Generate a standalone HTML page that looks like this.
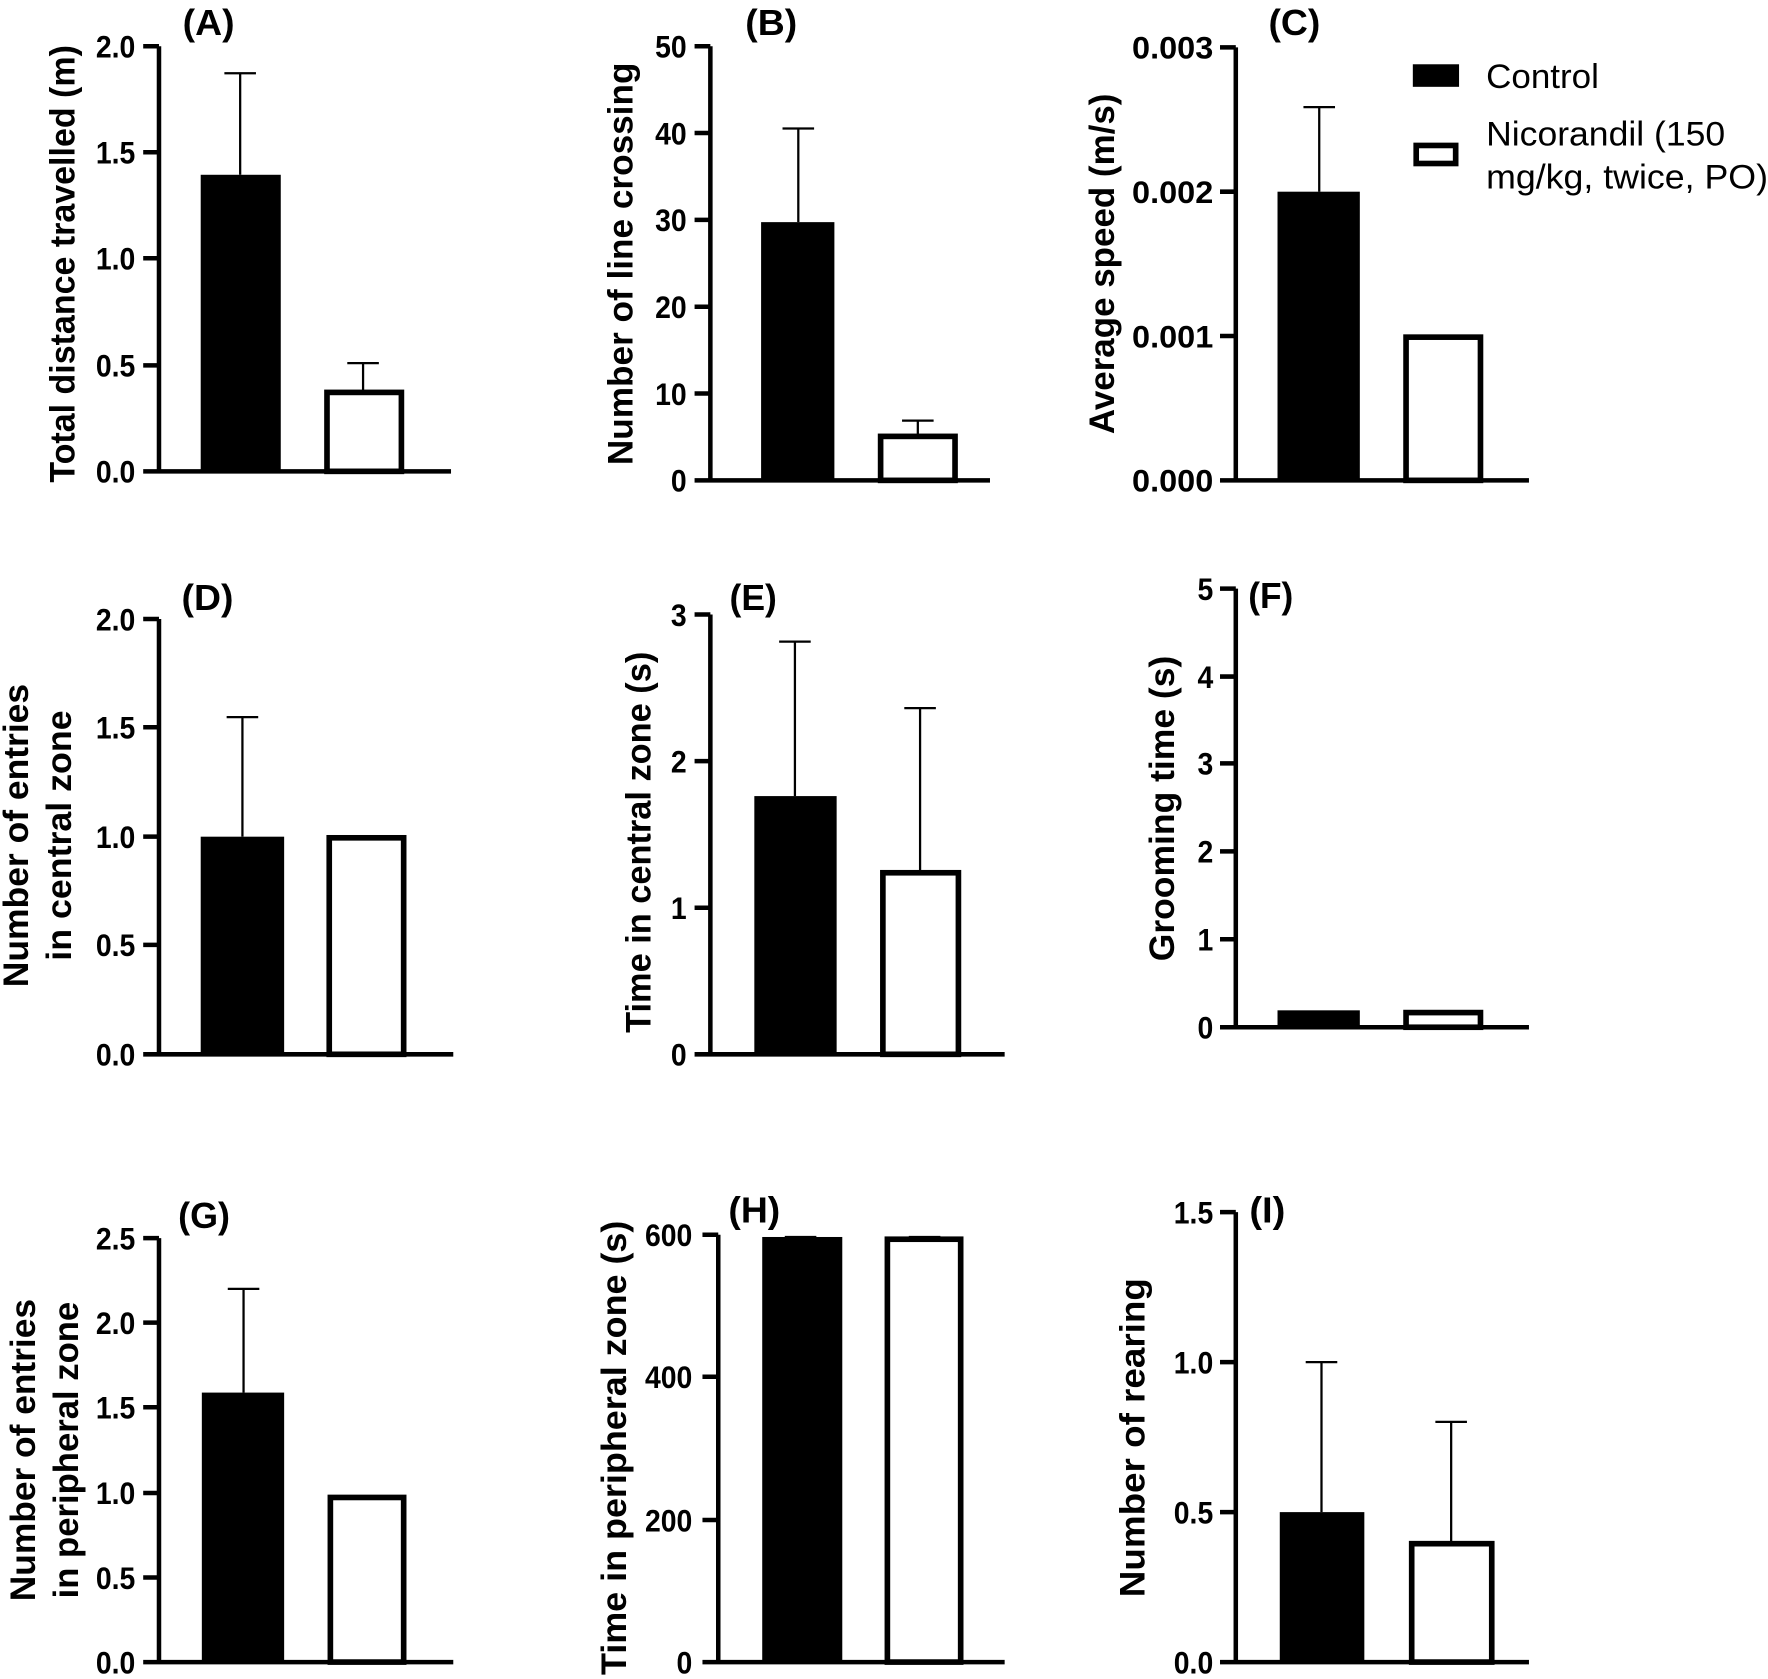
<!DOCTYPE html>
<html><head><meta charset="utf-8"><style>
html,body{margin:0;padding:0;background:#fff}
svg{display:block}
text{font-family:"Liberation Sans",Arial,sans-serif;font-weight:bold;fill:#000}
.t{font-size:28px;text-anchor:end}
.y{font-size:31px;text-anchor:middle}
.p{font-size:32px;text-anchor:middle}
.lg{font-size:30px;font-weight:normal}
.ax{stroke:#000;stroke-width:4;fill:none}
.e{stroke:#000;stroke-width:2;fill:none}
.w{fill:#fff;stroke:#000;stroke-width:5}
</style></head><body>
<svg width="1768" height="1679" viewBox="0 0 1568 1489" preserveAspectRatio="none" xmlns="http://www.w3.org/2000/svg">
<rect width="1568" height="1489" fill="#fff"/>

<!-- A -->
<text class="p" x="185" y="31" textLength="46" lengthAdjust="spacingAndGlyphs">(A)</text>
<path class="ax" d="M141 41V418H400M127 41H141M127 135H141M127 229H141M127 324H141M127 418H141"/>
<text class="t" x="120" y="51" textLength="35" lengthAdjust="spacingAndGlyphs">2.0</text><text class="t" x="120" y="145" textLength="35" lengthAdjust="spacingAndGlyphs">1.5</text><text class="t" x="120" y="239" textLength="35" lengthAdjust="spacingAndGlyphs">1.0</text><text class="t" x="120" y="334" textLength="35" lengthAdjust="spacingAndGlyphs">0.5</text><text class="t" x="120" y="428" textLength="35" lengthAdjust="spacingAndGlyphs">0.0</text>
<text class="y" transform="translate(66,234) rotate(-90)" textLength="388" lengthAdjust="spacingAndGlyphs">Total distance travelled (m)</text>
<path class="e" d="M213 155V65M199 65H227M322 347V322M308 322H336"/>
<rect x="178" y="155" width="71" height="263" fill="#000"/>
<rect class="w" x="290" y="348" width="66" height="70"/>

<!-- B -->
<text class="p" x="684" y="31" textLength="46" lengthAdjust="spacingAndGlyphs">(B)</text>
<path class="ax" d="M630 41V426H878M616 41H630M616 118H630M616 195H630M616 272H630M616 349H630M616 426H630"/>
<text class="t" x="609" y="51" textLength="28" lengthAdjust="spacingAndGlyphs">50</text><text class="t" x="609" y="128" textLength="28" lengthAdjust="spacingAndGlyphs">40</text><text class="t" x="609" y="205" textLength="28" lengthAdjust="spacingAndGlyphs">30</text><text class="t" x="609" y="282" textLength="28" lengthAdjust="spacingAndGlyphs">20</text><text class="t" x="609" y="359" textLength="28" lengthAdjust="spacingAndGlyphs">10</text><text class="t" x="609" y="436" textLength="14" lengthAdjust="spacingAndGlyphs">0</text>
<text class="y" transform="translate(561,234) rotate(-90)" textLength="357" lengthAdjust="spacingAndGlyphs">Number of line crossing</text>
<path class="e" d="M708 197V114M694 114H722M814 386V373M800 373H828"/>
<rect x="675" y="197" width="65" height="229" fill="#000"/>
<rect class="w" x="781" y="387" width="66" height="39"/>

<!-- C -->
<text class="p" x="1148" y="31" textLength="46" lengthAdjust="spacingAndGlyphs">(C)</text>
<path class="ax" d="M1096 42V426H1356M1082 42H1096M1082 170H1096M1082 298H1096M1082 426H1096"/>
<text class="t" x="1076" y="52" textLength="72" lengthAdjust="spacingAndGlyphs">0.003</text><text class="t" x="1076" y="180" textLength="72" lengthAdjust="spacingAndGlyphs">0.002</text><text class="t" x="1076" y="308" textLength="72" lengthAdjust="spacingAndGlyphs">0.001</text><text class="t" x="1076" y="436" textLength="72" lengthAdjust="spacingAndGlyphs">0.000</text>
<text class="y" transform="translate(988,234) rotate(-90)" textLength="302" lengthAdjust="spacingAndGlyphs">Average speed (m/s)</text>
<path class="e" d="M1170 170V95M1156 95H1184"/>
<rect x="1133" y="170" width="73" height="256" fill="#000"/>
<rect class="w" x="1247" y="299" width="66" height="127"/>
<rect x="1253" y="57" width="41" height="20" fill="#000"/>
<text class="lg" x="1318" y="78" textLength="100" lengthAdjust="spacingAndGlyphs">Control</text>
<rect x="1256" y="129" width="35" height="16" fill="#fff" stroke="#000" stroke-width="5"/>
<text class="lg" x="1318" y="129" textLength="212" lengthAdjust="spacingAndGlyphs">Nicorandil (150</text>
<text class="lg" x="1318" y="167" textLength="250" lengthAdjust="spacingAndGlyphs">mg/kg, twice, PO)</text>

<!-- D -->
<text class="p" x="184" y="541" textLength="46" lengthAdjust="spacingAndGlyphs">(D)</text>
<path class="ax" d="M141 549V935H402M127 549H141M127 645H141M127 742H141M127 838H141M127 935H141"/>
<text class="t" x="120" y="559" textLength="35" lengthAdjust="spacingAndGlyphs">2.0</text><text class="t" x="120" y="655" textLength="35" lengthAdjust="spacingAndGlyphs">1.5</text><text class="t" x="120" y="752" textLength="35" lengthAdjust="spacingAndGlyphs">1.0</text><text class="t" x="120" y="848" textLength="35" lengthAdjust="spacingAndGlyphs">0.5</text><text class="t" x="120" y="945" textLength="35" lengthAdjust="spacingAndGlyphs">0.0</text>
<text class="y" transform="translate(25,741) rotate(-90)" textLength="269" lengthAdjust="spacingAndGlyphs">Number of entries</text>
<text class="y" transform="translate(63,741) rotate(-90)" textLength="222" lengthAdjust="spacingAndGlyphs">in central zone</text>
<path class="e" d="M215 742V636M201 636H229"/>
<rect x="178" y="742" width="74" height="193" fill="#000"/>
<rect class="w" x="292" y="743" width="66" height="192"/>

<!-- E -->
<text class="p" x="668" y="541" textLength="42" lengthAdjust="spacingAndGlyphs">(E)</text>
<path class="ax" d="M630 545V935H891M616 545H630M616 675H630M616 805H630M616 935H630"/>
<text class="t" x="609" y="555" textLength="14" lengthAdjust="spacingAndGlyphs">3</text><text class="t" x="609" y="685" textLength="14" lengthAdjust="spacingAndGlyphs">2</text><text class="t" x="609" y="815" textLength="14" lengthAdjust="spacingAndGlyphs">1</text><text class="t" x="609" y="945" textLength="14" lengthAdjust="spacingAndGlyphs">0</text>
<text class="y" transform="translate(577,747) rotate(-90)" textLength="338" lengthAdjust="spacingAndGlyphs">Time in central zone (s)</text>
<path class="e" d="M705 706V569M691 569H719M816 773V628M802 628H830"/>
<rect x="669" y="706" width="73" height="229" fill="#000"/>
<rect class="w" x="783" y="774" width="67" height="161"/>

<!-- F -->
<text class="p" x="1127" y="539" textLength="40" lengthAdjust="spacingAndGlyphs">(F)</text>
<path class="ax" d="M1096 522V911H1356M1082 522H1096M1082 600H1096M1082 677H1096M1082 755H1096M1082 833H1096M1082 911H1096"/>
<text class="t" x="1076" y="532" textLength="14" lengthAdjust="spacingAndGlyphs">5</text><text class="t" x="1076" y="610" textLength="14" lengthAdjust="spacingAndGlyphs">4</text><text class="t" x="1076" y="687" textLength="14" lengthAdjust="spacingAndGlyphs">3</text><text class="t" x="1076" y="765" textLength="14" lengthAdjust="spacingAndGlyphs">2</text><text class="t" x="1076" y="843" textLength="14" lengthAdjust="spacingAndGlyphs">1</text><text class="t" x="1076" y="921" textLength="14" lengthAdjust="spacingAndGlyphs">0</text>
<text class="y" transform="translate(1041,717) rotate(-90)" textLength="271" lengthAdjust="spacingAndGlyphs">Grooming time (s)</text>
<rect x="1133" y="896" width="73" height="15" fill="#000"/>
<rect class="w" x="1247" y="898" width="66" height="13"/>

<!-- G -->
<text class="p" x="181" y="1089" textLength="46" lengthAdjust="spacingAndGlyphs">(G)</text>
<path class="ax" d="M141 1098V1474H402M127 1098H141M127 1173H141M127 1248H141M127 1324H141M127 1399H141M127 1474H141"/>
<text class="t" x="120" y="1108" textLength="35" lengthAdjust="spacingAndGlyphs">2.5</text><text class="t" x="120" y="1183" textLength="35" lengthAdjust="spacingAndGlyphs">2.0</text><text class="t" x="120" y="1258" textLength="35" lengthAdjust="spacingAndGlyphs">1.5</text><text class="t" x="120" y="1334" textLength="35" lengthAdjust="spacingAndGlyphs">1.0</text><text class="t" x="120" y="1409" textLength="35" lengthAdjust="spacingAndGlyphs">0.5</text><text class="t" x="120" y="1484" textLength="35" lengthAdjust="spacingAndGlyphs">0.0</text>
<text class="y" transform="translate(31,1286) rotate(-90)" textLength="268" lengthAdjust="spacingAndGlyphs">Number of entries</text>
<text class="y" transform="translate(69,1286) rotate(-90)" textLength="263" lengthAdjust="spacingAndGlyphs">in peripheral zone</text>
<path class="e" d="M216 1235V1143M202 1143H230"/>
<rect x="179" y="1235" width="73" height="239" fill="#000"/>
<rect class="w" x="293" y="1328" width="65" height="146"/>

<!-- H -->
<text class="p" x="669" y="1084" textLength="46" lengthAdjust="spacingAndGlyphs">(H)</text>
<path class="ax" d="M637 1095V1474H891M623 1095H637M623 1221H637M623 1348H637M623 1474H637"/>
<text class="t" x="614" y="1105" textLength="42" lengthAdjust="spacingAndGlyphs">600</text><text class="t" x="614" y="1231" textLength="42" lengthAdjust="spacingAndGlyphs">400</text><text class="t" x="614" y="1358" textLength="42" lengthAdjust="spacingAndGlyphs">200</text><text class="t" x="614" y="1484" textLength="14" lengthAdjust="spacingAndGlyphs">0</text>
<text class="y" transform="translate(555,1284) rotate(-90)" textLength="403" lengthAdjust="spacingAndGlyphs">Time in peripheral zone (s)</text>
<path class="e" d="M696 1097H724M806 1097H834"/>
<rect x="676" y="1097" width="71" height="377" fill="#000"/>
<rect class="w" x="787" y="1099" width="65" height="375"/>

<!-- I -->
<text class="p" x="1124" y="1084" textLength="32" lengthAdjust="spacingAndGlyphs">(I)</text>
<path class="ax" d="M1096 1075V1474H1356M1082 1075H1096M1082 1208H1096M1082 1341H1096M1082 1474H1096"/>
<text class="t" x="1076" y="1085" textLength="35" lengthAdjust="spacingAndGlyphs">1.5</text><text class="t" x="1076" y="1218" textLength="35" lengthAdjust="spacingAndGlyphs">1.0</text><text class="t" x="1076" y="1351" textLength="35" lengthAdjust="spacingAndGlyphs">0.5</text><text class="t" x="1076" y="1484" textLength="35" lengthAdjust="spacingAndGlyphs">0.0</text>
<text class="y" transform="translate(1015,1275) rotate(-90)" textLength="283" lengthAdjust="spacingAndGlyphs">Number of rearing</text>
<path class="e" d="M1172 1341V1208M1158 1208H1186M1287 1368V1261M1273 1261H1301"/>
<rect x="1135" y="1341" width="75" height="133" fill="#000"/>
<rect class="w" x="1252" y="1369" width="71" height="105"/>
</svg>
</body></html>
